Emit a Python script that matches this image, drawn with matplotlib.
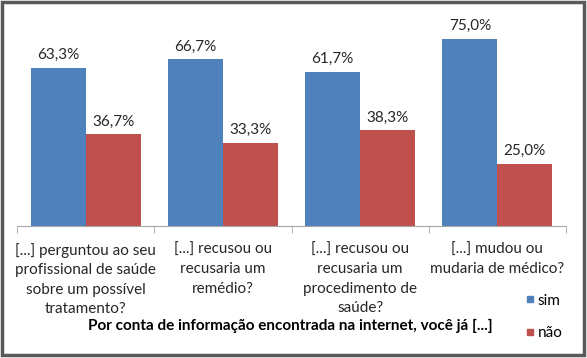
import matplotlib.pyplot as plt
import numpy as np
from matplotlib.patches import Rectangle
from matplotlib.lines import Line2D

categories = [
    "[...] perguntou ao seu\nprofissional de saúde\nsobre um possível\ntratamento?",
    "[...] recusou ou\nrecusaria um\nremédio?",
    "[...] recusou ou\nrecusaria um\nprocedimento de\nsaúde?",
    "[...] mudou ou\nmudaria de médico?",
]
sim = [63.3, 66.7, 61.7, 75.0]
nao = [36.7, 33.3, 38.3, 25.0]
series_names = ["sim", "não"]
title = "Por conta de informação encontrada na internet, você já [...]"

blue = "#4F81BD"
red = "#C0504D"
plt.rcParams["font.family"] = ["Lato", "DejaVu Sans"]

fig = plt.figure(figsize=(5.87, 3.58), dpi=100)
ax = fig.add_axes([17 / 587, 132 / 358, 549 / 587, 200 / 358])

x = np.arange(len(categories))
w = 0.4
b1 = ax.bar(x - w / 2, sim, w, color=blue)
b2 = ax.bar(x + w / 2, nao, w, color=red)

for bars, vals in ((b1, sim), (b2, nao)):
    for r, v in zip(bars, vals):
        ax.annotate(f"{v:.1f}%".replace(".", ","),
                    (r.get_x() + r.get_width() / 2, v),
                    xytext=(0, 4), textcoords="offset points",
                    ha="center", va="bottom", fontsize=11, color="#262626")

ax.set_xlim(-0.5, len(categories) - 0.5)
ax.set_ylim(0, 80)
ax.set_yticks([])
for s in ("top", "right", "left"):
    ax.spines[s].set_visible(False)
ax.spines["bottom"].set_color("#a6a6a6")
ax.set_xticks(np.arange(len(categories) + 1) - 0.5, minor=True)
ax.set_xticks(x)
ax.set_xticklabels(categories, fontsize=11, color="#262626", linespacing=1.5)
ax.tick_params(axis="x", which="major", length=0, pad=12)
ax.tick_params(axis="x", which="minor", length=5, color="#a6a6a6")

fig.text(290 / 587, 1 - 326 / 358, title, ha="center", va="center",
         fontsize=11, fontweight="bold", color="#000000")

handles = [Line2D([], [], marker="s", linestyle="", color=c, markersize=5)
           for c in (blue, red)]
fig.legend(handles, series_names, loc="center", bbox_to_anchor=(544 / 587, 1 - 317 / 358),
           frameon=False, fontsize=11, handletextpad=0.2, labelspacing=1.2,
           handlelength=0.6)

fig.patches.append(Rectangle((1.5 / 587, 3 / 358), 582 / 587, 353 / 358,
                             transform=fig.transFigure, fill=False,
                             edgecolor="#595959", linewidth=2.5))

fig.savefig("out.png", dpi=100)
